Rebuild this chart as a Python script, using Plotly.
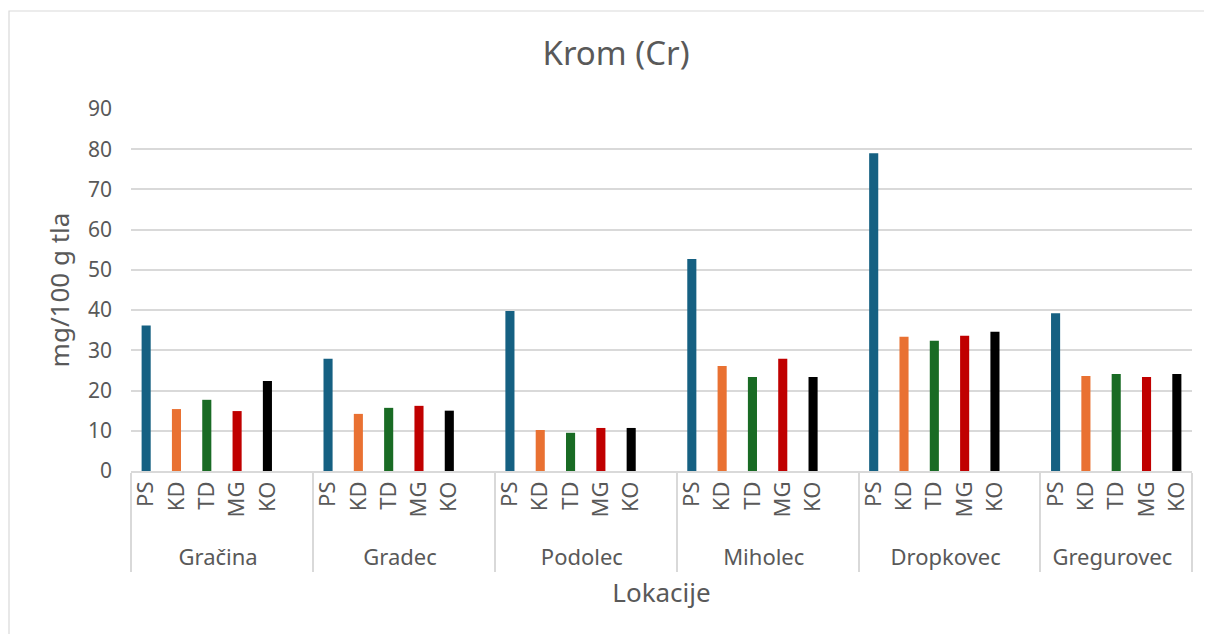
import plotly.graph_objects as go

locations = ["Gračina", "Gradec", "Podolec", "Miholec", "Dropkovec", "Gregurovec"]
subcats = ["PS", "KD", "TD", "MG", "KO"]
ps = [36.2, 27.9, 39.8, 52.7, 79.0, 39.2]
kd = [15.4, 14.2, 10.2, 26.1, 33.4, 23.6]
td = [17.7, 15.7, 9.5, 23.4, 32.4, 24.1]
mg = [14.9, 16.2, 10.7, 27.9, 33.6, 23.4]
ko = [22.4, 15.0, 10.7, 23.4, 34.6, 24.1]
colors = {"PS": "#156082", "KD": "#E97132", "TD": "#196B24", "MG": "#C00000", "KO": "#000000"}
series = {"PS": ps, "KD": kd, "TD": td, "MG": mg, "KO": ko}

x_outer, x_inner, y_vals, bar_colors = [], [], [], []
for i, loc in enumerate(locations):
    for s in subcats:
        x_outer.append(loc)
        x_inner.append(s)
        y_vals.append(series[s][i])
        bar_colors.append(colors[s])
    if i < len(locations) - 1:
        x_outer.append(loc)
        x_inner.append(" ")
        y_vals.append(None)
        bar_colors.append("#ffffff")

FONT = "Noto Sans"
GREY = "#595959"
W, H = 1204, 626
L, R, T, B = 123, 20, 101, 163
PW, PH = W - L - R, H - T - B

fig = go.Figure(go.Bar(x=[x_outer, x_inner], y=y_vals, marker=dict(color=bar_colors, line=dict(width=0)),
                       width=0.3, showlegend=False))

fig.update_layout(
    width=W, height=H,
    margin=dict(l=L, r=R, t=T, b=B),
    paper_bgcolor="white", plot_bgcolor="white",
    font=dict(family=FONT, color=GREY, size=20),
    title=dict(text="Krom (Cr)", x=608 / W, xanchor="center", y=1 - 45 / H, yanchor="middle",
               font=dict(size=33, color=GREY, family=FONT)),
)
fig.update_yaxes(range=[0, 90], dtick=10, showgrid=True, gridcolor="#d9d9d9", gridwidth=1.5,
                 zeroline=False, showline=False, ticks="", tickfont=dict(size=21, color=GREY),
                 ticklabelstandoff=18,
                 title=dict(text="mg/100 g tla", font=dict(size=26, color=GREY), standoff=10))
fig.update_xaxes(type="multicategory", tickangle=-90, showline=True, linecolor="#d9d9d9", linewidth=1.5,
                 showdividers=True, dividercolor="#d9d9d9", dividerwidth=1.5,
                 tickfont=dict(size=22, color=GREY), ticks="", tickprefix="\u00a0",
                 title=dict(text="Lokacije", font=dict(size=26, color=GREY), standoff=14))
fig.add_shape(type="rect", xref="paper", yref="paper",
              x0=(1 - L) / PW, x1=(1203 - L) / PW, y0=-(B + 10) / PH, y1=1 + (T - 3) / PH,
              line=dict(color="#d9d9d9", width=1.2), fillcolor="rgba(0,0,0,0)", layer="below")

fig.write_html("out.html")
